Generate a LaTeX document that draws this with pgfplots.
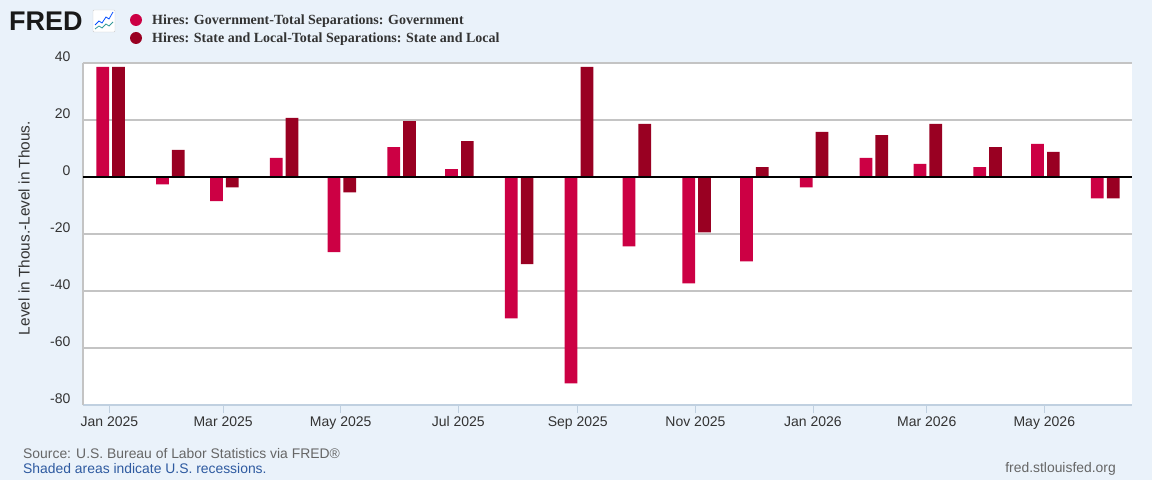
\documentclass[border=0pt]{standalone}
\usepackage{fontspec}
\setmainfont{Liberation Sans}
\newfontfamily\legfont{Liberation Serif}
\usepackage{pgfplots}
\usepackage{pgfplotstable}
\pgfplotsset{compat=1.18}
\definecolor{bg}{RGB}{234,242,250}
\definecolor{gov}{RGB}{204,0,68}
\definecolor{sl}{RGB}{153,0,34}
\definecolor{gridc}{RGB}{196,196,196}
\definecolor{txt}{RGB}{51,51,51}
\definecolor{srcc}{RGB}{102,102,102}
\definecolor{linkc}{RGB}{46,90,160}
\definecolor{tickc}{RGB}{192,208,224}
\pgfplotstableread{
x gov sl
0 38.6 38.6
31 -2.6 9.5
59 -8.5 -3.6
90 6.7 20.7
120 -26.4 -5.4
151 10.5 19.6
181 2.8 12.6
212 -49.6 -30.6
243 -72.4 38.6
273 -24.3 18.6
304 -37.3 -19.4
334 -29.6 3.5
365 -3.6 15.8
396 6.7 14.7
424 4.6 18.6
455 3.5 10.5
485 11.6 8.8
516 -7.5 -7.5
}\data
\begin{document}
\begin{tikzpicture}
\useasboundingbox (0pt,0pt) rectangle (1152pt,480pt);
\fill[bg] (0pt,0pt) rectangle (1152pt,480pt);
% logo
\node[anchor=west,inner sep=0pt,text=black!90] at (9pt,459pt) {\fontsize{27}{27}\selectfont\bfseries FRED};
\draw[gray!40,fill=white,rounded corners=1pt] (93pt,448pt) rectangle (115pt,470pt);
\draw[blue!70!cyan,line width=0.8pt] (95pt,455pt) -- (99pt,459pt) -- (102pt,457pt) -- (106pt,463pt) -- (109pt,461pt) -- (113pt,468pt);
\draw[teal!80,line width=0.8pt] (95pt,451pt) -- (99pt,454pt) -- (102pt,452pt) -- (106pt,456pt) -- (109pt,454pt) -- (113pt,458pt);
% legend
\fill[gov] (136pt,460pt) circle (6pt);
\fill[sl] (136pt,442pt) circle (6pt);
\node[anchor=west,inner sep=0pt,text=txt] at (152pt,459pt) {\legfont\fontsize{14}{16}\selectfont\bfseries Hires: Government-Total Separations: Government};
\node[anchor=west,inner sep=0pt,text=txt] at (152pt,441pt) {\legfont\fontsize{14}{16}\selectfont\bfseries Hires: State and Local-Total Separations: State and Local};
% y label
\node[rotate=90,text=txt,inner sep=0pt] at (24pt,252pt) {\fontsize{15.4}{17}\selectfont Level in Thous.-Level in Thous.};
% footer
\node[anchor=west,inner sep=0pt,text=srcc] at (23pt,26pt) {\fontsize{13.9}{15}\selectfont Source: U.S. Bureau of Labor Statistics via FRED\textregistered};
\node[anchor=west,inner sep=0pt,text=linkc] at (23pt,11pt) {\fontsize{13.9}{15}\selectfont Shaded areas indicate U.S. recessions.};
\node[anchor=east,inner sep=0pt,text=srcc] at (1116pt,11pt) {\fontsize{13.9}{15}\selectfont fred.stlouisfed.org};
\begin{axis}[
  at={(83pt,75pt)}, anchor=south west, scale only axis,
  width=1049pt, height=342pt,
  xmin=-13.7, xmax=530.5, ymin=-80, ymax=40,
  axis background/.style={fill=white},
  axis x line*=bottom, axis y line*=left,
  x axis line style={tickc, line width=1.2pt, -},
  y axis line style={gridc, line width=1.2pt, -},
  ytick={-80,-60,-40,-20,0,20,40},
  yticklabels={-80,-60,-40,-20,0,20,40},
  ymajorgrids, major grid style={gridc, line width=1.5pt},
  ytick style={draw=none},
  yticklabel style={text=txt, font=\fontsize{14}{16}\selectfont, xshift=-9pt, yshift=6pt},
  xtick={0,59,120,181,243,304,365,424,485},
  xticklabels={Jan 2025,Mar 2025,May 2025,Jul 2025,Sep 2025,Nov 2025,Jan 2026,Mar 2026,May 2026},
  xtick align=outside, major tick length=8pt,
  xtick style={tickc, line width=1pt},
  xticklabel style={text=txt, font=\fontsize{14}{16}\selectfont},
  clip=false,
]
\addplot[ybar, bar width=6.6, bar shift=-4.1, fill=gov, draw=none] table[x expr=\thisrow{x}+0.6, y=gov] {\data};
\addplot[ybar, bar width=6.6, bar shift=4.1, fill=sl, draw=none] table[x expr=\thisrow{x}+0.6, y=sl] {\data};
\draw[black, line width=2pt] (axis cs:-13.7,0) -- (axis cs:530.5,0);
\end{axis}
\end{tikzpicture}
\end{document}
